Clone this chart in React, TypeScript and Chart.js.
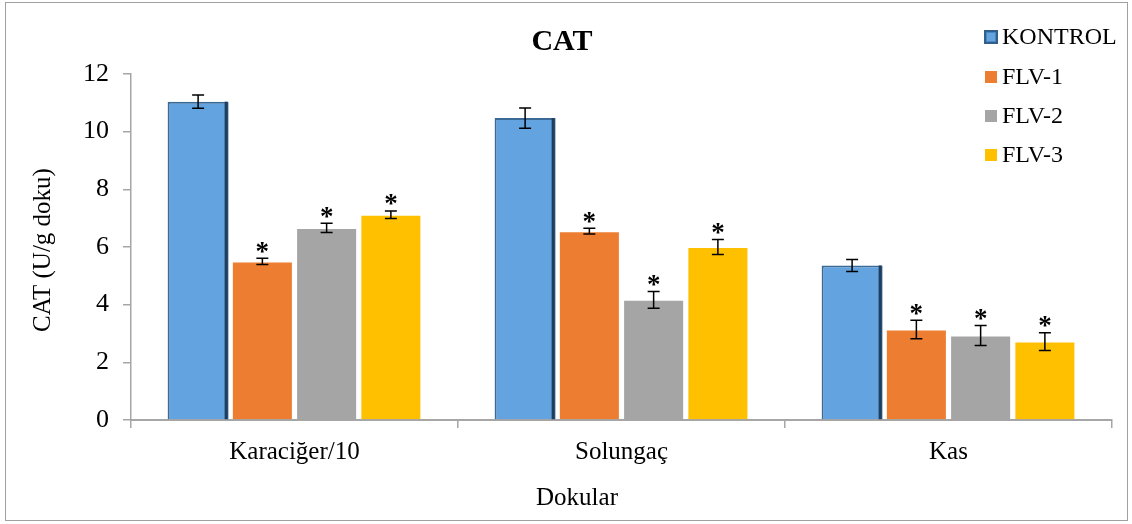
import React, { useEffect, useRef } from "react";
import { Chart, registerables } from "chart.js";

Chart.register(...registerables);

const chartTitle = "CAT";
const yAxisTitle = "CAT (U/g doku)";
const xAxisTitle = "Dokular";
const categories = ["Karaciğer/10", "Solungaç", "Kas"];
const seriesNames = ["KONTROL", "FLV-1", "FLV-2", "FLV-3"];

const kontrol = [11.04, 10.47, 5.36];
const flv1 = [5.5, 6.55, 3.14];
const flv2 = [6.66, 4.17, 2.93];
const flv3 = [7.12, 6.0, 2.72];

const kontrolErr = [0.23, 0.35, 0.21];
const flv1Err = [0.11, 0.1, 0.32];
const flv2Err = [0.16, 0.29, 0.35];
const flv3Err = [0.13, 0.26, 0.31];

const kontrolSig = [false, false, false];
const flv1Sig = [true, true, true];
const flv2Sig = [true, true, true];
const flv3Sig = [true, true, true];

const yMin = 0;
const yMax = 12;
const yStep = 2;

const colors = ["#62a3e0", "#ed7d31", "#a5a5a5", "#ffc000"];
const SERIF = "'Liberation Serif', 'Times New Roman', serif";

const values = [kontrol, flv1, flv2, flv3];
const errors = [kontrolErr, flv1Err, flv2Err, flv3Err];
const sigs = [kontrolSig, flv1Sig, flv2Sig, flv3Sig];

const decorPlugin = {
  id: "decor",
  beforeDraw(chart: any) {
    const ctx = chart.ctx;
    ctx.save();
    ctx.fillStyle = "#ffffff";
    ctx.fillRect(0, 0, chart.width, chart.height);
    ctx.strokeStyle = "#a0a0a0";
    ctx.lineWidth = 1;
    ctx.strokeRect(5.5, 2.5, 1122, 518);
    ctx.restore();
  },
  afterDatasetsDraw(chart: any) {
    const ctx = chart.ctx;
    const yScale = chart.scales.y;
    ctx.save();
    // darker right edge on KONTROL bars (bevel look)
    const m0 = chart.getDatasetMeta(0);
    m0.data.forEach((el: any) => {
      const half = el.width / 2;
      ctx.fillStyle = "#1f3d5c";
      ctx.fillRect(el.x + half - 4, el.y, 3, el.base - el.y);
    });
    chart.data.datasets.forEach((ds: any, i: number) => {
      const meta = chart.getDatasetMeta(i);
      meta.data.forEach((el: any, j: number) => {
        const v = values[i][j];
        const e = errors[i][j];
        const x = el.x;
        const yt = yScale.getPixelForValue(v + e);
        const yb = yScale.getPixelForValue(v - e);
        ctx.strokeStyle = "#000000";
        ctx.lineWidth = 1.5;
        ctx.beginPath();
        ctx.moveTo(x, yt);
        ctx.lineTo(x, yb);
        ctx.moveTo(x - 6, yt);
        ctx.lineTo(x + 6, yt);
        ctx.moveTo(x - 6, yb);
        ctx.lineTo(x + 6, yb);
        ctx.stroke();
        if (sigs[i][j]) {
          ctx.font = `bold 27px ${SERIF}`;
          ctx.fillStyle = "#000000";
          ctx.textAlign = "center";
          ctx.textBaseline = "alphabetic";
          const m = ctx.measureText("*");
          const cy = yt - 11;
          const base = cy - (m.actualBoundingBoxDescent - m.actualBoundingBoxAscent) / 2;
          ctx.fillText("*", x, base);
        }
      });
    });
    ctx.restore();
  },
  afterDraw(chart: any) {
    const ctx = chart.ctx;
    ctx.save();
    ctx.fillStyle = "#000000";
    ctx.font = `bold 30px ${SERIF}`;
    ctx.textAlign = "center";
    ctx.textBaseline = "middle";
    ctx.fillText(chartTitle, 562, 42);
    ctx.font = `25px ${SERIF}`;
    ctx.fillText(xAxisTitle, 577, 498);
    ctx.save();
    ctx.translate(43, 250);
    ctx.rotate(-Math.PI / 2);
    ctx.fillText(yAxisTitle, 0, 0);
    ctx.restore();
    const ys = [37, 77, 116, 155];
    chart.data.datasets.forEach((ds: any, i: number) => {
      const cy = ys[i];
      if (i === 0) {
        ctx.fillStyle = "#2f5f8c";
        ctx.fillRect(984, cy - 7, 14, 14);
        ctx.fillStyle = "#4d86bd";
        ctx.fillRect(986, cy - 5, 10, 10);
        ctx.fillStyle = colors[0];
        ctx.fillRect(987, cy - 4, 8, 8);
      } else {
        ctx.fillStyle = colors[i];
        ctx.fillRect(985, cy - 6, 12, 12);
      }
      ctx.fillStyle = "#000000";
      ctx.font = `24px ${SERIF}`;
      ctx.textAlign = "left";
      ctx.textBaseline = "middle";
      ctx.fillText(ds.label, 1002, cy + 1);
    });
    ctx.restore();
  },
};

export default function App() {
  const canvasRef = useRef<HTMLCanvasElement | null>(null);

  useEffect(() => {
    const canvas = canvasRef.current;
    if (!canvas) return;
    const chart = new Chart(canvas, {
      type: "bar",
      data: {
        labels: categories,
        datasets: seriesNames.map((name, i) => ({
          label: name,
          data: values[i],
          backgroundColor: colors[i],
          borderColor: i === 0 ? "#3b6a96" : "rgba(255,255,255,0.4)",
          borderWidth: i === 0 ? 2 : 1,
          barPercentage: 0.95,
          categoryPercentage: 0.786,
        })),
      },
      options: {
        responsive: false,
        animation: false,
        devicePixelRatio: 1,
        layout: { padding: { left: 0, right: 20, top: 74, bottom: 0 } },
        plugins: {
          legend: { display: false },
          title: { display: false },
          tooltip: { enabled: false },
        },
        scales: {
          x: {
            grid: {
              display: true,
              drawOnChartArea: false,
              drawTicks: true,
              tickLength: 8,
              color: "#a6a6a6",
              lineWidth: 1.5,
            },
            border: { display: true, color: "#a6a6a6", width: 2 },
            ticks: {
              color: "#000000",
              font: { family: SERIF, size: 25 },
              padding: 9,
              maxRotation: 0,
            },
            afterFit: (scale: any) => {
              scale.height = 104;
            },
          },
          y: {
            min: yMin,
            max: yMax,
            grid: {
              display: true,
              drawOnChartArea: false,
              drawTicks: true,
              tickLength: 8,
              color: "#a6a6a6",
              lineWidth: 1.5,
            },
            border: { display: true, color: "#a6a6a6", width: 1.5 },
            ticks: {
              stepSize: yStep,
              color: "#000000",
              font: { family: SERIF, size: 26 },
              padding: 14,
            },
            afterFit: (scale: any) => {
              scale.width = 131;
            },
          },
        },
      },
      plugins: [decorPlugin],
    });
    return () => chart.destroy();
  }, []);

  return (
    <div style={{ position: "absolute", left: 0, top: 0, width: 1132, height: 524 }}>
      <canvas ref={canvasRef} width={1132} height={524} />
    </div>
  );
}
